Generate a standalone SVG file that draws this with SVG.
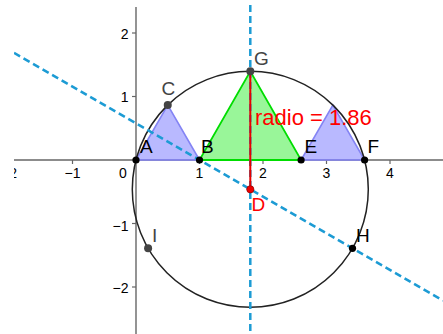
<svg xmlns="http://www.w3.org/2000/svg" width="443" height="334" viewBox="0 0 443 334">
<defs>
<clipPath id="view"><rect x="14" y="0" width="429" height="334"/></clipPath>
<style>
.axis{stroke:#666;stroke-width:1.4;fill:none}
.tick{stroke:#666;stroke-width:1.2}
.tl{font-family:"Liberation Sans",Arial,sans-serif;font-size:14px;fill:#000}
.tly{font-family:"Liberation Sans",Arial,sans-serif;font-size:14px;fill:#000;text-anchor:end}
.dash{stroke:#1c9bd4;stroke-width:2.5;stroke-dasharray:7 4;fill:none}
.blue{fill:#8080ff;fill-opacity:0.55;stroke:#8484f4;stroke-width:1.6}
.green{fill:#33ee33;fill-opacity:0.5;stroke:#00dd00;stroke-width:1.8}
.circ{fill:none;stroke:#222;stroke-width:1.5}
.lbl{font-family:"Liberation Sans",Arial,sans-serif;font-size:19px}
.pk{fill:#000}
.pg{fill:#444}
</style>
</defs>
<rect x="0" y="0" width="443" height="334" fill="#fff"/>
<g clip-path="url(#view)">
<g id="axes">
<line class="axis" x1="14" y1="160" x2="443" y2="160"/>
<line class="axis" x1="136" y1="7" x2="136" y2="334"/>
<g class="tick">
<line x1="9" y1="160" x2="9" y2="164"/>
<line x1="72.5" y1="160" x2="72.5" y2="164"/>
<line x1="199.5" y1="160" x2="199.5" y2="164"/>
<line x1="263" y1="160" x2="263" y2="164"/>
<line x1="326.5" y1="160" x2="326.5" y2="164"/>
<line x1="390" y1="160" x2="390" y2="164"/>
<line x1="132" y1="33" x2="136" y2="33"/>
<line x1="132" y1="96.5" x2="136" y2="96.5"/>
<line x1="132" y1="223.5" x2="136" y2="223.5"/>
<line x1="132" y1="287" x2="136" y2="287"/>
</g>
<text class="tl" x="9" y="178" text-anchor="middle">−2</text>
<text class="tl" x="72.5" y="178" text-anchor="middle">−1</text>
<text class="tl" x="123" y="178" text-anchor="middle">0</text>
<text class="tl" x="199.5" y="178" text-anchor="middle">1</text>
<text class="tl" x="263" y="178" text-anchor="middle">2</text>
<text class="tl" x="326.5" y="178" text-anchor="middle">3</text>
<text class="tl" x="390" y="178" text-anchor="middle">4</text>
<text class="tly" x="128.5" y="38.5">2</text>
<text class="tly" x="128.5" y="102">1</text>
<text class="tly" x="128.5" y="230.5">−1</text>
<text class="tly" x="128.5" y="292.5">−2</text>
</g>
<g id="shapes">
<polygon class="blue" points="136,160 199.5,160 167.75,105"/>
<polygon class="blue" points="301.1,160 364.6,160 332.85,105"/>
<polygon class="green" points="199.5,160 301.1,160 250.3,71.33"/>
<circle class="circ" cx="250.3" cy="189.33" r="118"/>
</g>
<g id="connectors">
<line class="dash" x1="14" y1="52.9" x2="443" y2="300.6"/>
<line class="dash" x1="250.3" y1="5" x2="250.3" y2="334"/>
<line x1="250.3" y1="71.33" x2="250.3" y2="189.33" stroke="#e60000" stroke-width="2"/>
</g>
<g id="A"><circle class="pk" cx="136" cy="160" r="3.6"/><text class="lbl" x="140" y="153" fill="#000">A</text></g>
<g id="B"><circle class="pk" cx="199.5" cy="160" r="3.6"/><text class="lbl" x="201" y="153" fill="#000">B</text></g>
<g id="C"><circle class="pg" cx="167.75" cy="105" r="4"/><text class="lbl" x="161.5" y="95" fill="#444">C</text></g>
<g id="E"><circle class="pk" cx="301.1" cy="160" r="3.6"/><text class="lbl" x="304.5" y="153" fill="#000">E</text></g>
<g id="F"><circle class="pk" cx="364.6" cy="160" r="3.6"/><text class="lbl" x="367.5" y="153" fill="#000">F</text></g>
<g id="G"><circle class="pg" cx="250.3" cy="71.33" r="4"/><text class="lbl" x="254" y="65" fill="#444">G</text></g>
<g id="D"><circle cx="250.3" cy="189.33" r="3.6" fill="#e00" stroke="#900" stroke-width="0.8"/><text class="lbl" x="251.5" y="211" fill="#f00">D</text></g>
<g id="H"><circle class="pk" cx="352.5" cy="248.3" r="3.6"/><text class="lbl" x="356" y="241.5" fill="#000">H</text></g>
<g id="I"><circle class="pg" cx="148.1" cy="248.3" r="4"/><text class="lbl" x="152" y="241.5" fill="#444">I</text></g>
<g id="radio"><text x="255" y="125" font-family="Liberation Sans, Arial, sans-serif" font-size="22" fill="#f00">radio = 1.86</text></g>
</g>
</svg>
